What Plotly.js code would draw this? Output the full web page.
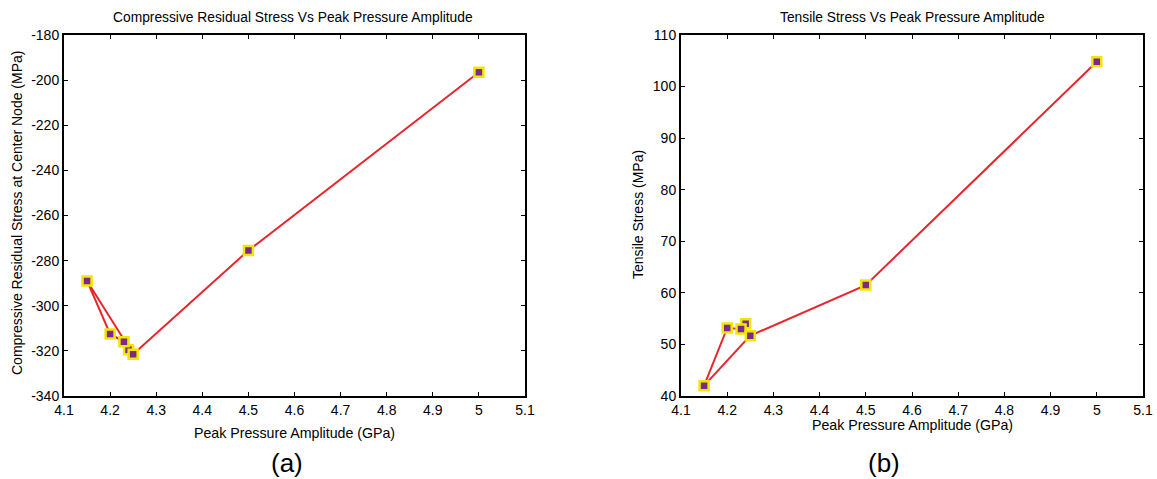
<!DOCTYPE html>
<html>
<head>
<meta charset="utf-8">
<script src="https://cdn.plot.ly/plotly-3.0.1.min.js"></script>
<style>html,body{margin:0;padding:0;background:#fff;}#chart{width:1157px;height:479px;}</style>
</head>
<body>
<div id="chart"></div>
<script>
// Data (in drawing order of the original polylines)
const pressureA = [4.24, 4.23, 4.2, 4.15, 4.25, 4.5, 5];
const compressiveStress = [-319.5, -316, -312.5, -289, -321.5, -275.5, -196.5];
const pressureB = [4.24, 4.23, 4.2, 4.15, 4.25, 4.5, 5];
const tensileStress = [54, 53, 53.2, 42, 51.7, 61.5, 104.8];

// Tick labels
const yTickValsA = [-340, -320, -300, -280, -260, -240, -220, -200, -180];
const yTickTextA = ["-340", "-320", "-300", "-280", "-260", "-240", "-220", "-200", "-180"];

const titleA = "Compressive Residual Stress Vs Peak Pressure Amplitude";
const titleB = "Tensile Stress Vs Peak Pressure Amplitude";
const xTitle = "Peak Pressure Amplitude (GPa)";
const yTitleA = "Compressive Residual Stress at Center Node (MPa)";
const yTitleB = "Tensile Stress (MPa)";

const FONT = "Liberation Sans, Arial, sans-serif";
const lineStyle = {color: "#e8262c", width: 2};
const markerStyle = {symbol: "square", size: 9, color: "#7b2a8c", line: {color: "#f2e600", width: 2.5}};

const traces = [
  {x: pressureA, y: compressiveStress, xaxis: "x", yaxis: "y", mode: "lines+markers", line: lineStyle, marker: markerStyle, hoverinfo: "x+y"},
  {x: pressureB, y: tensileStress, xaxis: "x2", yaxis: "y2", mode: "lines+markers", line: lineStyle, marker: markerStyle, hoverinfo: "x+y"}
];

const W = 1157, H = 479;
const yDom = [(H - 396) / H, (H - 35) / H];
function axisBase(extra) {
  return Object.assign({
    showline: true, linecolor: "#000", linewidth: 2, mirror: "allticks",
    ticks: "inside", ticklen: 4, tickwidth: 1, tickcolor: "#000",
    showgrid: false, zeroline: false,
    tickfont: {family: FONT, size: 14, color: "#000"}
  }, extra);
}
function ann(text, px, py, size, angle) {
  return {text: text, x: px / W, y: 1 - py / H, xref: "paper", yref: "paper",
          xanchor: "center", yanchor: "middle", showarrow: false, textangle: angle || 0,
          font: {family: FONT, size: size, color: "#000"}};
}

const layout = {
  width: W, height: H,
  margin: {l: 0, r: 0, t: 0, b: 0},
  paper_bgcolor: "#fff", plot_bgcolor: "#fff",
  showlegend: false,
  xaxis: axisBase({domain: [64 / W, 525 / W], range: [4.1, 5.1], dtick: 0.1, tick0: 4.1, anchor: "y"}),
  yaxis: axisBase({domain: yDom, range: [-340, -180], tickmode: "array", tickvals: yTickValsA, ticktext: yTickTextA, anchor: "x"}),
  xaxis2: axisBase({domain: [681 / W, 1143 / W], range: [4.1, 5.1], dtick: 0.1, tick0: 4.1, anchor: "y2"}),
  yaxis2: axisBase({domain: yDom, range: [40, 110], dtick: 10, anchor: "x2"}),
  annotations: [
    ann(titleA, 293, 17, 13.8),
    ann(titleB, 912, 17, 13.8),
    ann(xTitle, 294, 433, 14.2),
    ann(xTitle, 912, 425, 14.2),
    ann(yTitleA, 17, 213, 14, -90),
    ann(yTitleB, 638, 215, 14, -90),
    ann("(a)", 287, 463, 26),
    ann("(b)", 884, 463, 26)
  ]
};

Plotly.newPlot("chart", traces, layout, {displayModeBar: false, staticPlot: true});
</script>
</body>
</html>
